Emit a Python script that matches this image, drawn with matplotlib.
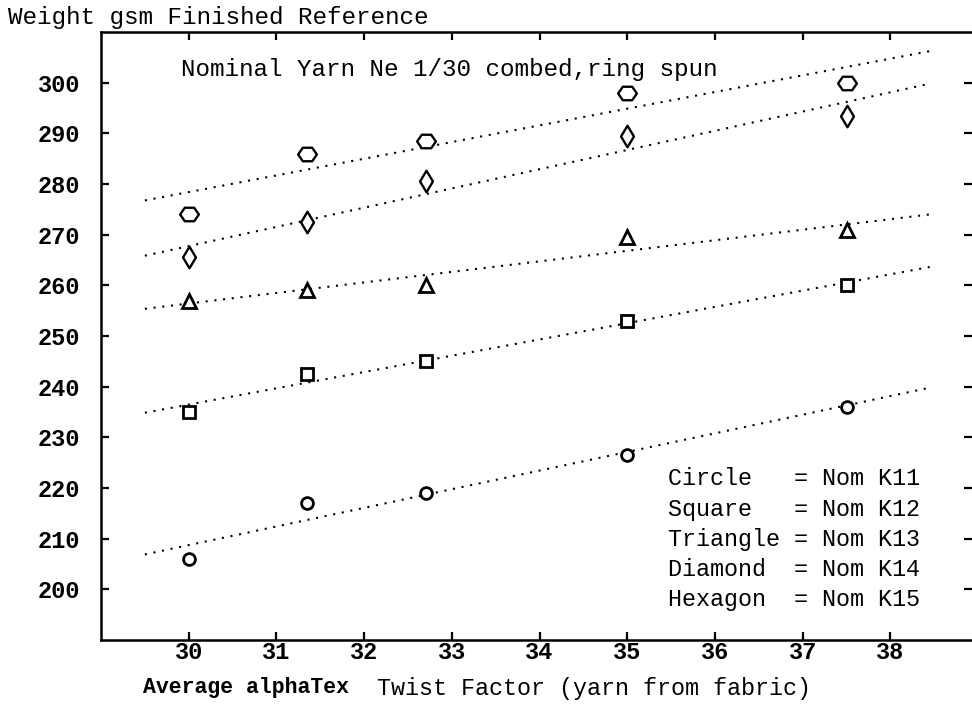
import numpy as np
import matplotlib
matplotlib.use('Agg')
import matplotlib.pyplot as plt
from matplotlib.path import Path

plt.rcParams['font.family'] = ['Liberation Mono', 'DejaVu Sans Mono']

# twist factor (x) and finished weight gsm for each nominal K
twist = [30, 31.35, 32.7, 35, 37.5]
k11 = [206, 217, 219, 226.5, 236]      # circle
k12 = [235, 242.5, 245, 253, 260]      # square
k13 = [257, 259, 260, 269.5, 271]      # triangle
k14 = [265.5, 272.5, 280.5, 289.5, 293.5]  # diamond
k15 = [274, 286, 288.5, 298, 300]      # hexagon

legend_lines = ["Circle   = Nom K11",
                "Square   = Nom K12",
                "Triangle = Nom K13",
                "Diamond  = Nom K14",
                "Hexagon  = Nom K15"]

fit_range = [29.5, 38.45]

#marker shapes
hexagon = Path([(-1, 0), (-0.5, 0.72), (0.5, 0.72), (1, 0), (0.5, -0.72), (-0.5, -0.72), (-1, 0)],
               [1, 2, 2, 2, 2, 2, 79])
diamond = Path([(0, 1), (0.6, 0), (0, -1), (-0.6, 0), (0, 1)], [1, 2, 2, 2, 79])

series = [
    (k11, 'o', 8.5, 2.0),
    (k12, 's', 8.5, 2.0),
    (k13, '^', 10.5, 2.0),
    (k14, diamond, 15.5, 1.7),
    (k15, hexagon, 13.5, 1.7),
]

fig = plt.figure(figsize=(9.72, 7.2), dpi=100)
ax = fig.add_axes([101/972, 80/720, 871/972, 608/720])

xs = np.array(fit_range)
for ys, mk, ms, mew in series:
    coef = np.polyfit(twist, ys, 1)
    ax.plot(xs, np.polyval(coef, xs), color='black', lw=1.5, linestyle=(0, (1, 3.2)), zorder=2)
    ax.plot(twist, ys, linestyle='none', marker=mk, markersize=ms, markeredgewidth=mew,
            markeredgecolor='black', markerfacecolor='white', zorder=3)

ax.set_xlim(29.0, 38.93)
ax.set_ylim(190, 310)
ax.set_xticks(range(30, 39))
ax.set_yticks(range(200, 301, 10))

ax.spines['right'].set_visible(False)
for s in ['left', 'top', 'bottom']:
    ax.spines[s].set_linewidth(1.8)

ax.tick_params(axis='both', direction='in', length=6, width=1.6, labelsize=17,
               top=True, right=True)
ax.tick_params(axis='x', pad=1)
ax.tick_params(axis='y', pad=15)
for lab in ax.get_xticklabels() + ax.get_yticklabels():
    lab.set_fontweight('bold')

ax.text(29.91, 302.6, "Nominal Yarn Ne 1/30 combed,ring spun", fontsize=17.5, va='center', ha='left')

leg_y = [221.9, 215.8, 209.8, 203.9, 198.0]
for txt, yy in zip(legend_lines, leg_y):
    ax.text(35.46, yy, txt, fontsize=16.8, va='center', ha='left')

fig.text(8/972, 1 - 17.5/720, "Weight gsm Finished Reference", fontsize=17.5, va='center', ha='left')
fig.text(143/972, 1 - 688/720, "Average alphaTex", fontsize=15.5, fontweight='bold', va='center', ha='left')
fig.text(377/972, 1 - 688/720, "Twist Factor (yarn from fabric)", fontsize=16.8, va='center', ha='left')

fig.savefig('out.png', dpi=100)
